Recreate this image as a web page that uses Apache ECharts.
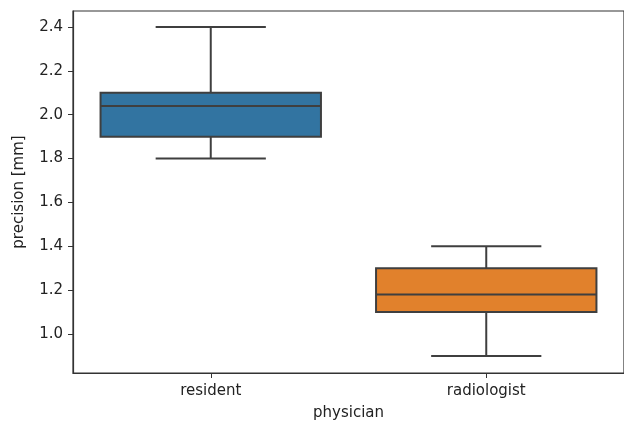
<!DOCTYPE html>
<html>
<head>
<meta charset="utf-8">
<script src="https://cdn.jsdelivr.net/npm/echarts@6/dist/echarts.min.js"></script>
<style>html,body{margin:0;padding:0;background:#fff}#c{width:624px;height:428px}</style>
</head>
<body>
<div id="c"></div>
<script>
const categories = ['resident', 'radiologist'];
const whiskerLow = [1.8, 0.9];
const q1 = [1.9, 1.1];
const median = [2.04, 1.18];
const q3 = [2.1, 1.3];
const whiskerHigh = [2.4, 1.4];
const boxColors = ['#3274a1', '#e1812c'];
const yTicks = [1.0, 1.2, 1.4, 1.6, 1.8, 2.0, 2.2, 2.4];

const data = categories.map((c, i) => ({
  value: [i, whiskerLow[i], q1[i], median[i], q3[i], whiskerHigh[i]],
  itemStyle: { color: boxColors[i] }
}));

const lineColor = '#3f3f3f';
const font = 'DejaVu Sans';

const chart = echarts.init(document.getElementById('c'), null, { renderer: 'canvas' });
chart.setOption({
  animation: false,
  backgroundColor: '#fff',
  grid: { left: 73, right: -1, top: 11, bottom: 55, show: true, borderColor: '#333', borderWidth: 1.2, backgroundColor: 'transparent' },
  xAxis: {
    type: 'category',
    data: categories,
    boundaryGap: true,
    name: 'physician',
    nameLocation: 'middle',
    nameGap: 33,
    nameTextStyle: { fontFamily: font, fontSize: 15, color: '#222' },
    axisLine: { show: true, lineStyle: { color: '#333', width: 1.2 } },
    axisTick: { show: true, alignWithLabel: true, length: 5, lineStyle: { color: '#333' } },
    axisLabel: { fontFamily: font, fontSize: 15, color: '#222', margin: 11 },
    splitLine: { show: false }
  },
  yAxis: {
    type: 'value',
    min: 0.822,
    max: 2.473,
    name: 'precision [mm]',
    nameLocation: 'middle',
    nameGap: 46,
    nameTextStyle: { fontFamily: font, fontSize: 15, color: '#222' },
    axisLine: { show: true, lineStyle: { color: '#333', width: 1.2 } },
    axisTick: { show: true, length: 5, customValues: yTicks, lineStyle: { color: '#333' } },
    axisLabel: { fontFamily: font, fontSize: 15, color: '#222', margin: 10, customValues: yTicks, formatter: v => v.toFixed(1) },
    splitLine: { show: false }
  },
  series: [{
    type: 'custom',
    data: data,
    encode: { x: 0, y: [1, 2, 3, 4, 5] },
    renderItem: function (params, api) {
      const x = api.value(0);
      const lo = api.coord([x, api.value(1)]);
      const b1 = api.coord([x, api.value(2)]);
      const md = api.coord([x, api.value(3)]);
      const b3 = api.coord([x, api.value(4)]);
      const hi = api.coord([x, api.value(5)]);
      const bw = api.size([1, 0])[0] * 0.8;
      const cx = lo[0];
      const fill = boxColors[params.dataIndex];
      const ls = { stroke: lineColor, lineWidth: 2 };
      return {
        type: 'group',
        children: [
          { type: 'line', shape: { x1: cx, y1: b3[1], x2: cx, y2: hi[1] }, style: ls },
          { type: 'line', shape: { x1: cx, y1: b1[1], x2: cx, y2: lo[1] }, style: ls },
          { type: 'line', shape: { x1: cx - bw / 4, y1: hi[1], x2: cx + bw / 4, y2: hi[1] }, style: ls },
          { type: 'line', shape: { x1: cx - bw / 4, y1: lo[1], x2: cx + bw / 4, y2: lo[1] }, style: ls },
          { type: 'rect', shape: { x: cx - bw / 2, y: b3[1], width: bw, height: b1[1] - b3[1] }, style: { fill: fill, stroke: lineColor, lineWidth: 2 } },
          { type: 'line', shape: { x1: cx - bw / 2, y1: md[1], x2: cx + bw / 2, y2: md[1] }, style: ls }
        ]
      };
    }
  }]
});
</script>
</body>
</html>
